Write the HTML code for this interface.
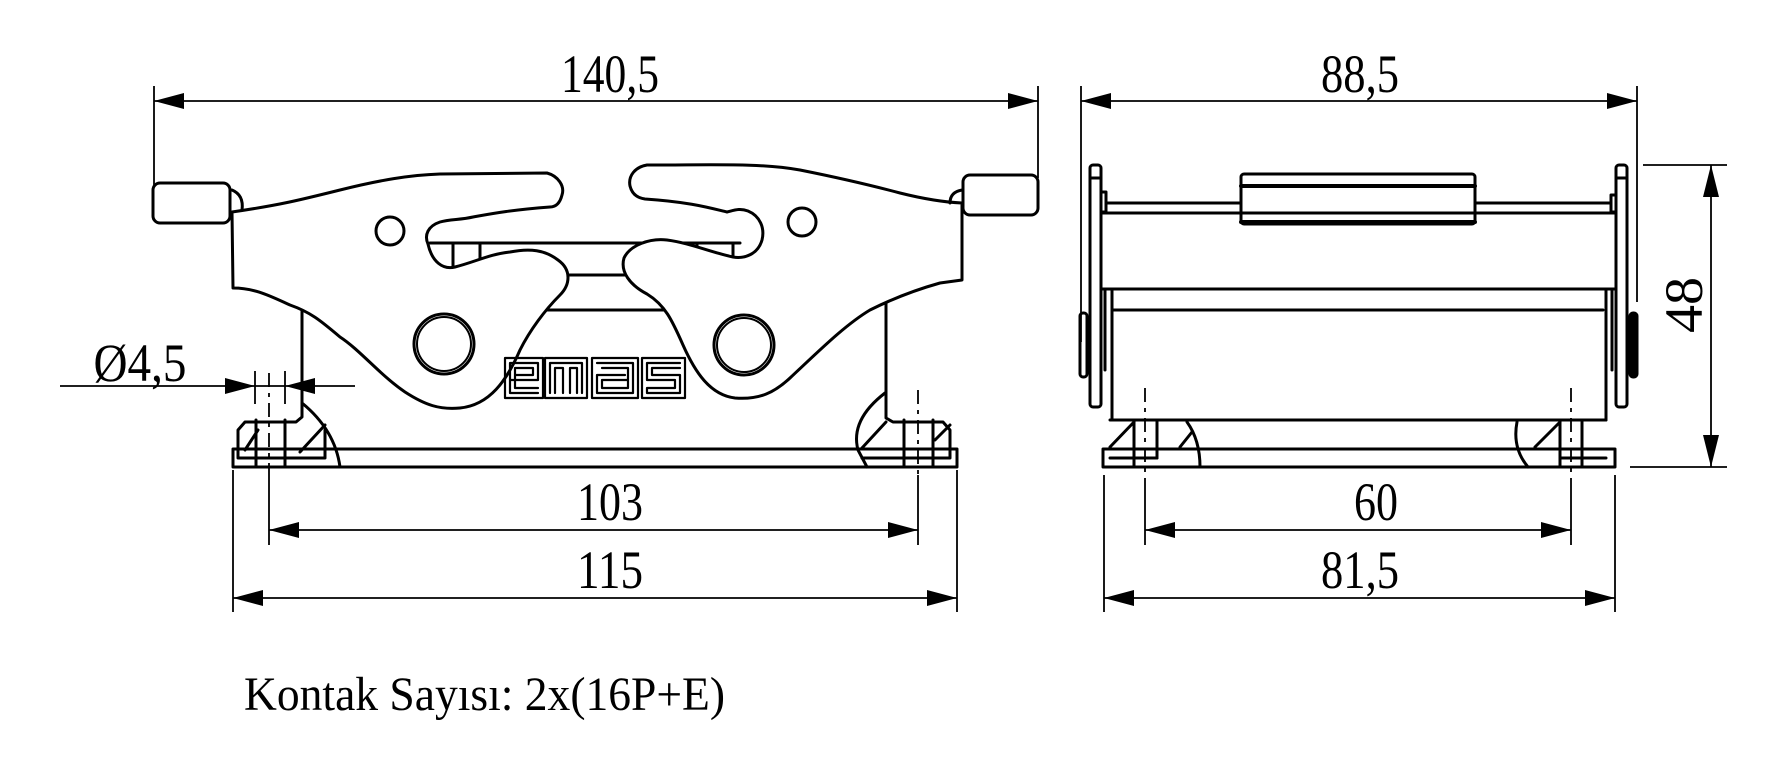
<!DOCTYPE html>
<html><head><meta charset="utf-8"><style>html,body{margin:0;padding:0;background:#fff}svg{display:block}</style></head>
<body>
<svg width="1787" height="781" viewBox="0 0 1787 781" xmlns="http://www.w3.org/2000/svg" font-family="'Liberation Serif', serif">
<g fill="none" stroke="#000" stroke-width="3" stroke-linejoin="round" stroke-linecap="round">
<line x1="430" y1="243" x2="740" y2="243"/>
<line x1="453" y1="243" x2="453" y2="268"/><line x1="480" y1="243" x2="480" y2="260"/>
<line x1="697" y1="243" x2="697" y2="252"/><line x1="733" y1="243" x2="733" y2="258"/>
<line x1="560" y1="275" x2="630" y2="275"/>
<line x1="530" y1="310" x2="670" y2="310"/>
<polyline points="302,305 302,417 296,422 245,422 238,430 238,458 325,458 325,430"/>
<polyline points="886,300 886,418 893,422 943,422 950,430 950,458 862,458"/>
<path d="M302,403 Q335,430 340,467"/>
<path d="M885,393 Q850,420 858,450 L867,467"/>
<line x1="245" y1="450" x2="258" y2="430"/><line x1="300" y1="452" x2="325" y2="425"/>
<line x1="862" y1="448" x2="886" y2="422"/><line x1="935" y1="440" x2="950" y2="425"/>
<line x1="256" y1="420" x2="256" y2="467"/><line x1="285" y1="420" x2="285" y2="467"/>
<line x1="904" y1="420" x2="904" y2="467"/><line x1="933" y1="420" x2="933" y2="467"/>
<rect x="233" y="449" width="724" height="18"/>
<path fill="#fff" d="M232,212 C280,205 300,200 340,190 C380,180 410,175 440,174 L547,173 C558,176 565,186 562,195 C560,203 556,207 550,207 C510,210 490,214 473,217 C460,220 450,219 440,222 C428,226 424,235 428,244 C432,262 443,270 455,267 C475,262 490,254 510,252 C530,248 545,250 558,260 C572,270 570,285 560,295 C545,310 530,330 520,350 C507,380 490,405 460,408 C440,410 425,405 405,392 C380,375 360,350 340,337 C320,320 310,312 290,305 C270,296 255,288 233,288 Z"/>
<path fill="#fff" d="M962,203 C940,202 920,198 900,193 C870,185 840,178 800,170 C760,163 720,165 647,165 C635,167 628,176 630,186 C632,194 637,198 645,199 C690,202 710,208 727,212 C735,210 740,208 748,211 C760,216 765,228 762,240 C758,254 745,259 733,257 C710,252 690,243 667,240 C650,238 630,245 624,258 C620,272 630,285 647,294 C665,305 672,320 683,345 C695,372 710,395 735,398 C760,400 775,392 790,378 C820,350 845,325 870,310 C890,300 915,290 940,283 L962,280 Z"/>
<circle cx="390" cy="231" r="14"/><circle cx="802" cy="222" r="14"/>
<circle cx="444" cy="344" r="30"/><circle cx="444" cy="344" r="27" stroke-width="2"/>
<circle cx="744" cy="345" r="30"/><circle cx="744" cy="345" r="27" stroke-width="2"/>
<rect x="153" y="183" width="77" height="40" rx="7"/>
<path d="M232,190 Q244,195 242,210"/>
<rect x="963" y="175" width="75" height="40" rx="7"/>
<path d="M962,190 Q950,192 950,203"/>
<g stroke-width="2.2">
<rect x="505" y="358" width="38" height="40"/><rect x="545" y="358" width="42" height="40"/>
<rect x="592" y="358" width="46" height="40"/><rect x="642" y="358" width="43" height="40"/>
<path d="M510,380 H538 V363 H510 V393 H538 M515,375 H533 V368 H515 V388 H538"/>
<path d="M550,393 V363 H582 V393 M555,393 V368 H563 V393 M570,393 V368 H577 V393"/>
<path d="M597,363 H633 V393 H597 V375 H625 M602,368 H628 V388 H602 V380 H628"/>
<path d="M680,363 H647 V380 H675 V388 H647 V393 H680 V375 H652 V368 H680"/>
</g>
<rect x="1090" y="165" width="11" height="242" rx="3"/>
<rect x="1616" y="165" width="11" height="242" rx="3"/>
<line x1="1090" y1="178" x2="1101" y2="178"/><line x1="1616" y1="178" x2="1627" y2="178"/>
<rect x="1101" y="192" width="5" height="20"/><rect x="1611" y="195" width="5" height="17"/>
<line x1="1106" y1="203" x2="1241" y2="203"/><line x1="1475" y1="203" x2="1611" y2="203"/>
<line x1="1101" y1="213" x2="1616" y2="213"/>
<line x1="1101" y1="289" x2="1616" y2="289"/>
<line x1="1113" y1="310" x2="1603" y2="310"/>
<rect x="1241" y="174" width="234" height="50" rx="3"/>
<line x1="1241" y1="186" x2="1475" y2="186" stroke-width="4"/>
<line x1="1241" y1="222" x2="1475" y2="222" stroke-width="4"/>
<line x1="1112" y1="289" x2="1112" y2="420"/><line x1="1105" y1="289" x2="1105" y2="370"/>
<line x1="1606" y1="289" x2="1606" y2="420"/><line x1="1612" y1="289" x2="1612" y2="370"/>
<rect x="1080" y="313" width="7" height="64" rx="3" stroke-width="3"/>
<rect x="1630" y="313" width="7" height="64" rx="3" fill="#000"/>
<line x1="1110" y1="420" x2="1606" y2="420"/>
<rect x="1103" y="449" width="512" height="18"/>
<line x1="1110" y1="458" x2="1157" y2="458"/><line x1="1560" y1="458" x2="1606" y2="458"/>
<line x1="1134" y1="420" x2="1134" y2="467"/><line x1="1157" y1="420" x2="1157" y2="458"/>
<line x1="1560" y1="420" x2="1560" y2="467"/><line x1="1582" y1="420" x2="1582" y2="467"/>
<path d="M1187,422 Q1200,440 1200,467"/><path d="M1517,422 Q1512,448 1528,467"/>
<line x1="1110" y1="447" x2="1134" y2="422"/><line x1="1180" y1="447" x2="1192" y2="432"/>
<line x1="1535" y1="447" x2="1560" y2="422"/>
</g>
<g stroke="#000" stroke-width="1.8" stroke-dasharray="14,6,4,6">
<line x1="269" y1="373" x2="269" y2="475"/><line x1="918" y1="390" x2="918" y2="475"/>
<line x1="1145" y1="388" x2="1145" y2="480"/><line x1="1571" y1="388" x2="1571" y2="480"/>
</g>
<g stroke="#000" stroke-width="1.8" fill="none">
<line x1="154" y1="86" x2="154" y2="185"/><line x1="1038" y1="86" x2="1038" y2="178"/>
<line x1="154" y1="101" x2="1038" y2="101"/>
<line x1="269" y1="475" x2="269" y2="545"/><line x1="918" y1="475" x2="918" y2="545"/>
<line x1="269" y1="530" x2="918" y2="530"/>
<line x1="233" y1="470" x2="233" y2="612"/><line x1="957" y1="470" x2="957" y2="612"/>
<line x1="233" y1="598" x2="957" y2="598"/>
<line x1="60" y1="386" x2="355" y2="386"/>
<line x1="255" y1="371" x2="255" y2="404"/><line x1="285" y1="371" x2="285" y2="404"/>
<line x1="1081" y1="86" x2="1081" y2="342"/><line x1="1637" y1="86" x2="1637" y2="302"/>
<line x1="1081" y1="101" x2="1637" y2="101"/>
<line x1="1145" y1="480" x2="1145" y2="545"/><line x1="1571" y1="480" x2="1571" y2="545"/>
<line x1="1145" y1="530" x2="1571" y2="530"/>
<line x1="1104" y1="475" x2="1104" y2="612"/><line x1="1615" y1="475" x2="1615" y2="612"/>
<line x1="1104" y1="598" x2="1615" y2="598"/>
<line x1="1643" y1="165" x2="1727" y2="165"/><line x1="1630" y1="467" x2="1727" y2="467"/>
<line x1="1711" y1="165" x2="1711" y2="467"/>
</g>
<g fill="#000">
<path d="M154,101 l30,-8 v16 z"/><path d="M1038,101 l-30,-8 v16 z"/>
<path d="M269,530 l30,-8 v16 z"/><path d="M918,530 l-30,-8 v16 z"/>
<path d="M233,598 l30,-8 v16 z"/><path d="M957,598 l-30,-8 v16 z"/>
<path d="M255,386 l-30,-8 v16 z"/><path d="M285,386 l30,-8 v16 z"/>
<path d="M1081,101 l30,-8 v16 z"/><path d="M1637,101 l-30,-8 v16 z"/>
<path d="M1145,530 l30,-8 v16 z"/><path d="M1571,530 l-30,-8 v16 z"/>
<path d="M1104,598 l30,-8 v16 z"/><path d="M1615,598 l-30,-8 v16 z"/>
<path d="M1711,165 l-8,32 h16 z"/><path d="M1711,467 l-8,-32 h16 z"/>
</g>
<g fill="#000" font-size="54" text-anchor="middle">
<text x="610" y="92" textLength="98" lengthAdjust="spacingAndGlyphs">140,5</text>
<text x="610" y="520" textLength="66" lengthAdjust="spacingAndGlyphs">103</text>
<text x="610" y="588" textLength="66" lengthAdjust="spacingAndGlyphs">115</text>
<text x="1360" y="92" textLength="78" lengthAdjust="spacingAndGlyphs">88,5</text>
<text x="1376" y="520" textLength="44" lengthAdjust="spacingAndGlyphs">60</text>
<text x="1360" y="588" textLength="78" lengthAdjust="spacingAndGlyphs">81,5</text>
<text x="140" y="381" textLength="93" lengthAdjust="spacingAndGlyphs">Ø4,5</text>
<text transform="translate(1702,305) rotate(-90)" textLength="56" lengthAdjust="spacingAndGlyphs">48</text>
</g>
<text x="244" y="710" font-size="48" fill="#000" textLength="481" lengthAdjust="spacingAndGlyphs">Kontak Sayısı: 2x(16P+E)</text>
</svg>
</body></html>
